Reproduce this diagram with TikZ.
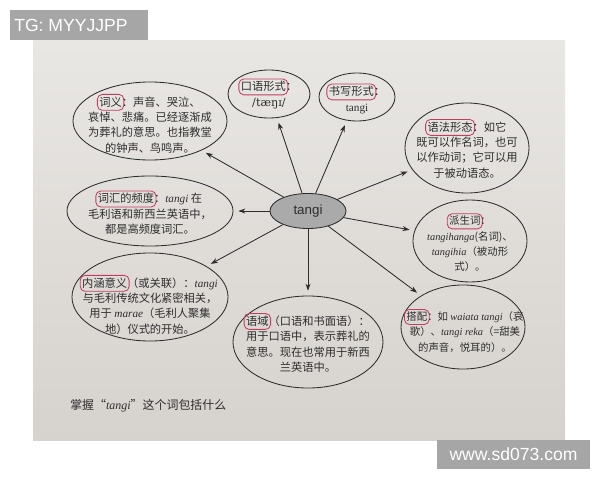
\documentclass[tikz,border=0pt]{standalone}
\usepackage{fontspec}
\newfontfamily\cjk{Noto Sans CJK SC}
\newfontfamily\latfont{Liberation Serif}
\newfontfamily\ipafont{DejaVu Serif}
\newfontfamily\markfont{Liberation Sans}
\usetikzlibrary{shapes.geometric, arrows.meta}
\definecolor{paper}{RGB}{233,231,228}
\definecolor{paperdark}{RGB}{214,210,205}
\definecolor{ink}{RGB}{45,45,45}
\definecolor{marker}{RGB}{196,62,92}
\definecolor{hub}{RGB}{170,170,170}
\definecolor{stamp}{RGB}{166,166,166}
\newcommand{\lat}[1]{{\latfont\itshape #1}}
\newcommand{\kw}[1]{\tikz[baseline=(kwtext.base)]{\node[inner sep=0pt] (kwtext) {#1};
	\draw[marker, line width=0.6pt, rounded corners=3.5pt, overlay] ([shift={(-1.2pt,-2pt)}]kwtext.south west) rectangle ([shift={(1.2pt,1.5pt)}]kwtext.north east);}}
\begin{document}
\begin{tikzpicture}[x=0.025cm, y=-0.025cm,
	bubble/.style={draw=ink, ellipse, line width=0.6pt, inner sep=0pt},
	note/.style={align=center, inner sep=0pt, font=\cjk\fontsize{8}{10.9}\selectfont, text=ink},
	small note/.style={note, font=\cjk\fontsize{7.4}{10.9}\selectfont},
	spoke/.style={draw=ink, line width=0.6pt, -{Stealth[length=5pt, width=3.6pt]}, shorten >=3.5pt},
	stampbox/.style={fill=stamp, text=white, inner sep=0pt, font=\markfont\fontsize{12.5}{14}\selectfont}]
	
	\useasboundingbox (0,0) rectangle (600,480);
	% the photographed page
	\shade[top color=paper, bottom color=paperdark] (33,40) rectangle (565,440);
	
	\node[bubble, fill=hub, minimum width=1.9cm, minimum height=0.875cm, font=\markfont\fontsize{9.5}{11}\selectfont, text=ink] (tangi) at (308,211) {tangi};
	
	\foreach \name/\x/\y/\w/\h in {ciyi/150/121/3.85/1.95, kouyu/269/94/2.05/1.2, shuxie/357/97/1.9/1.2, yufa/467/148/3.1/2.25, cihui/150/211/4.15/1.75, paisheng/470/241/2.85/2.05, neihan/150/297/3.9/2.2, yuyu/308/342/3.75/2.3, dapei/463/327/3.1/2.1}
	{
		\node[bubble, minimum width=\w cm, minimum height=\h cm] (\name) at (\x,\y) {};
		\draw[spoke] (tangi) -- (\name);
	}
	
	\node[note] (ciyitext) at (150,125) {\kw{词义}：声音、哭泣、\\哀悼、悲痛。已经逐渐成\\为葬礼的意思。也指教堂\\的钟声、鸟鸣声。};
	\node[note] (kouyutext) at (269,95) {\kw{口语形式}：\\{\ipafont /tæŋɪ/}};
	\node[note] (shuxietext) at (357,100) {\kw{书写形式}：\\{\latfont tangi}};
	\node[note] (yufatext) at (467,150) {\kw{语法形态}：如它\\既可以作名词，也可\\以作动词；它可以用\\于被动语态。};
	\node[note] (cihuitext) at (150,214) {\kw{词汇的频度}：\lat{tangi} 在\\毛利语和新西兰英语中，\\都是高频度词汇。};
	\node[small note] (paishengtext) at (470,244) {\kw{派生词}：\\\lat{tangihanga}(名词)、\\\lat{tangihia}（被动形\\式）。};
	\node[note] (neihantext) at (150,306) {\kw{内涵意义}（或关联）：\lat{tangi}\\与毛利传统文化紧密相关，\\用于 \lat{marae}（毛利人聚集\\地）仪式的开始。};
	\node[note] (yuyutext) at (308,344) {\kw{语域}（口语和书面语）：\\用于口语中，表示葬礼的\\意思。现在也常用于新西\\兰英语中。};
	\node[small note] (dapeitext) at (465,332) {\kw{搭配}：如 \lat{waiata tangi}（哀\\歌）、\lat{tangi reka}（=甜美\\的声音，悦耳的）。};
	
	\node[note, anchor=west, font=\cjk\fontsize{8.5}{10}\selectfont] (caption) at (70,406) {掌握“\lat{tangi}”这个词包括什么};
	
	% watermarks
	\node[stampbox, minimum width=3.45cm, minimum height=0.75cm] (tgbox) at (79,25) {};
	\node[stampbox, fill=none, anchor=west] (tgmark) at (14,25) {TG: MYYJJPP};
	\node[stampbox, minimum width=3.825cm, minimum height=0.725cm] (sitemark) at (513.5,454.5) {www.sd073.com};
\end{tikzpicture}
\end{document}
